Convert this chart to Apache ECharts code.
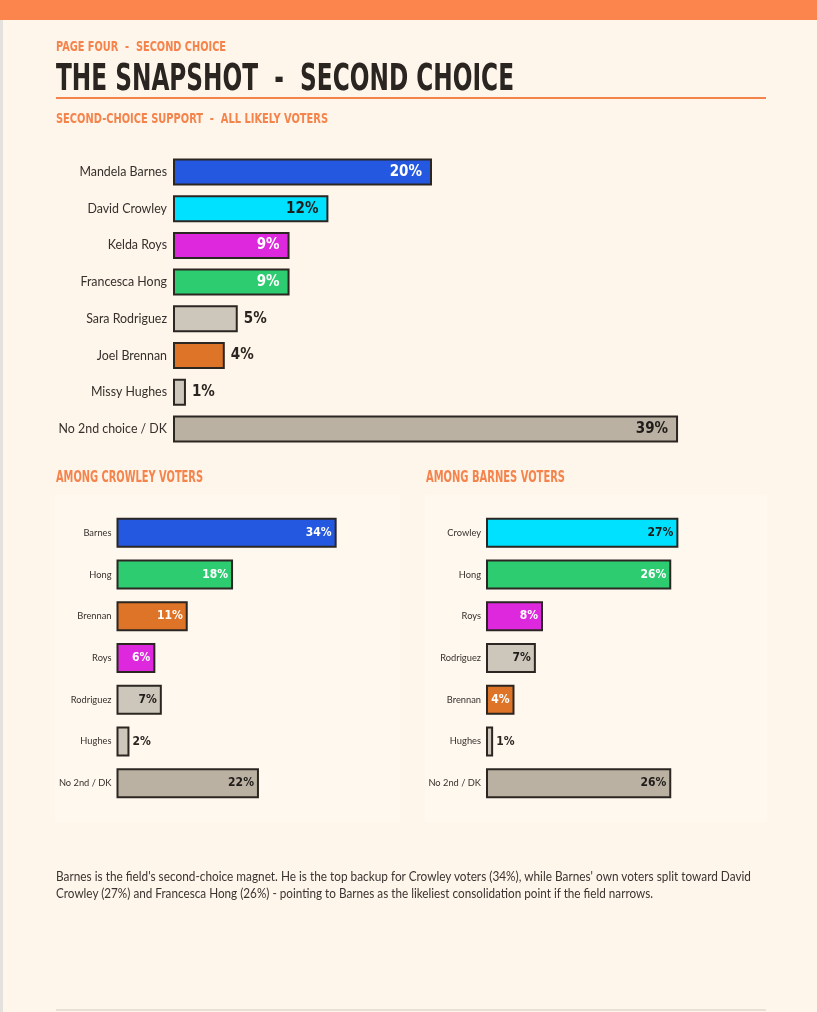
<!DOCTYPE html>
<html>
<head>
<meta charset="utf-8">
<title>The Snapshot - Second Choice</title>
<script src="https://cdn.jsdelivr.net/npm/echarts@6/dist/echarts.min.js"></script>
<style>
  html, body { margin: 0; padding: 0; }
  body { width: 817px; height: 1012px; background: #fef6eb; position: relative; overflow: hidden; }
  .topbar { position: absolute; left: 0; top: 0; width: 817px; height: 20px; background: #fc854e; }
  .edge { position: absolute; left: 0; top: 20px; width: 3px; height: 992px; background: #e4e0dc; }
  .panel { position: absolute; background: #fff8ef; }
  .fit { position: absolute; white-space: pre; display: inline-block; transform-origin: 0 0; }
  .hd { font-family: "DejaVu Sans Condensed", "DejaVu Sans", sans-serif; font-weight: bold; line-height: 1; color: #f5834c; }
  .title { color: #2b2521; }
  .rule { position: absolute; left: 56px; top: 97px; width: 710px; height: 2px; background: #f5834c; }
  .note { font-family: Lato, "Open Sans", sans-serif; font-size: 13px; line-height: 17px; color: #3a3531; }
  .foot { position: absolute; left: 56px; top: 1009px; width: 710px; height: 2px; background: #e8e0d4; }
  #chart { position: absolute; left: 0; top: 0; width: 817px; height: 1012px; }
</style>
</head>
<body>
<div class="topbar"></div>
<div class="edge"></div>
<div class="panel" style="left:55px;top:495px;width:345px;height:327px;"></div>
<div class="panel" style="left:425px;top:495px;width:342px;height:327px;"></div>
<div id="chart"></div>

<div class="fit hd" data-w="170" style="left:56px;top:39px;font-size:14px;">PAGE FOUR  -  SECOND CHOICE</div>
<div class="fit hd title" data-w="458" style="left:56px;top:59px;font-size:37px;">THE SNAPSHOT  -  SECOND CHOICE</div>
<div class="rule"></div>
<div class="fit hd" data-w="272" style="left:56px;top:111px;font-size:14px;">SECOND-CHOICE SUPPORT  -  ALL LIKELY VOTERS</div>
<div class="fit hd" data-w="147" style="left:56px;top:470px;font-size:15px;">AMONG CROWLEY VOTERS</div>
<div class="fit hd" data-w="139" style="left:426px;top:470px;font-size:15px;">AMONG BARNES VOTERS</div>

<div class="fit note" data-w="695" style="left:56px;top:868px;">Barnes is the field's second-choice magnet. He is the top backup for Crowley voters (34%), while Barnes' own voters split toward David</div>
<div class="fit note" data-w="597" style="left:56px;top:885px;">Crowley (27%) and Francesca Hong (26%) - pointing to Barnes as the likeliest consolidation point if the field narrows.</div>
<div class="foot"></div>

<script>
// all likely voters
var allNames = ['Mandela Barnes', 'David Crowley', 'Kelda Roys', 'Francesca Hong', 'Sara Rodriguez', 'Joel Brennan', 'Missy Hughes', 'No 2nd choice / DK'];
var allKeys = ['Barnes', 'Crowley', 'Roys', 'Hong', 'Rodriguez', 'Brennan', 'Hughes', 'DK'];
var allValues = [20, 12, 9, 9, 5, 4, 1, 39];

// among crowley voters
var crowleyNames = ['Barnes', 'Hong', 'Brennan', 'Roys', 'Rodriguez', 'Hughes', 'No 2nd / DK'];
var crowleyKeys = ['Barnes', 'Hong', 'Brennan', 'Roys', 'Rodriguez', 'Hughes', 'DK'];
var crowleyValues = [34, 18, 11, 6, 7, 2, 22];

// among barnes voters
var barnesNames = ['Crowley', 'Hong', 'Roys', 'Rodriguez', 'Brennan', 'Hughes', 'No 2nd / DK'];
var barnesKeys = ['Crowley', 'Hong', 'Roys', 'Rodriguez', 'Brennan', 'Hughes', 'DK'];
var barnesValues = [27, 26, 8, 7, 4, 1, 26];

var colors = {
  Barnes: '#2458e0', Crowley: '#00e1ff', Roys: '#dd28dd', Hong: '#2ecc71',
  Rodriguez: '#cdc6bb', Brennan: '#de7427', Hughes: '#cdc6bb', DK: '#bbb1a2'
};
// label colour when drawn inside the bar
var insideText = {
  Barnes: '#ffffff', Crowley: '#1f1c1a', Roys: '#ffffff', Hong: '#ffffff',
  Rodriguez: '#1f1c1a', Brennan: '#ffffff', Hughes: '#1f1c1a', DK: '#1f1c1a'
};

// fit header / note lines to their width in the layout
document.querySelectorAll('.fit').forEach(function (el) {
  var w = el.getBoundingClientRect().width;
  el.style.transform = 'scaleX(' + (parseFloat(el.dataset.w) / w) + ')';
});

function barData(keys, values, insideMin, inDist, outDist) {
  return values.map(function (v, i) {
    var k = keys[i];
    var inside = v >= insideMin;
    return {
      value: v,
      itemStyle: { color: colors[k] },
      label: {
        position: inside ? 'insideRight' : 'right',
        distance: inside ? inDist : outDist,
        color: inside ? insideText[k] : '#2a2521'
      }
    };
  });
}

function catAxis(idx, names, size, margin) {
  return {
    type: 'category', gridIndex: idx, data: names, inverse: true,
    axisLine: { show: false }, axisTick: { show: false },
    axisLabel: { margin: margin, fontFamily: 'Lato', fontSize: size, color: '#35302c' }
  };
}

function valAxis(idx) {
  return { type: 'value', gridIndex: idx, min: 0, max: 40, show: false, splitLine: { show: false } };
}

function barSeries(idx, data, width, fontSize) {
  return {
    type: 'bar', xAxisIndex: idx, yAxisIndex: idx, barWidth: width, data: data,
    itemStyle: { borderColor: '#2b2622', borderWidth: 2 },
    label: {
      show: true, formatter: '{c}%', fontSize: fontSize, fontWeight: 'bold',
      fontFamily: '"DejaVu Sans Condensed", "DejaVu Sans", sans-serif'
    },
    animation: false
  };
}

var myChart = echarts.init(document.getElementById('chart'), null, { renderer: 'canvas' });
var option = {
  backgroundColor: 'transparent',
  grid: [
    { left: 173, top: 153.6, width: 518, height: 293.7 },
    { left: 116.5, top: 512, width: 259, height: 292 },
    { left: 486, top: 512, width: 285, height: 292 }
  ],
  xAxis: [valAxis(0), valAxis(1), valAxis(2)],
  yAxis: [
    catAxis(0, allNames, 12.4, 6),
    catAxis(1, crowleyNames, 9.3, 5),
    catAxis(2, barnesNames, 9.3, 5)
  ],
  series: [
    barSeries(0, barData(allKeys, allValues, 6, 10, 6), 27, 15),
    barSeries(1, barData(crowleyKeys, crowleyValues, 3, 5, 3), 30, 12),
    barSeries(2, barData(barnesKeys, barnesValues, 3, 5, 3), 30, 12)
  ]
};
myChart.setOption(option);
window.addEventListener('resize', function () {
  myChart.resize();
});
</script>
</body>
</html>
